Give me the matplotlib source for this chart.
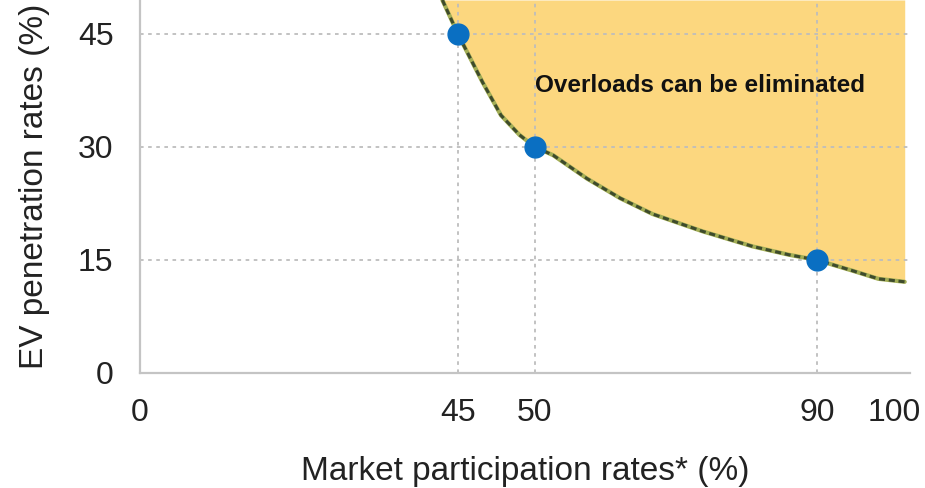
import numpy as np
import matplotlib
matplotlib.use('Agg')
import matplotlib.pyplot as plt
from matplotlib.transforms import ScaledTranslation

### DATA
x_ticks = [0, 45, 50, 90, 100]
y_ticks = [0, 15, 30, 45]
point_x = [45, 50, 90]
point_y = [45, 30, 15]
curve_x = [42.8, 45, 46.6, 47.8, 49.0, 50, 52.6, 57.4, 62.1, 66.7, 73.8, 80.9, 86.0, 90, 94.0, 97.0, 100]
curve_y = [49.5, 45, 38.6, 34.2, 31.6, 30, 28.9, 25.8, 23.2, 21.1, 18.8, 16.8, 15.7, 15, 13.6, 12.5, 12.1]
region_label = 'Overloads can be eliminated'
x_label = 'Market participation rates* (%)'
y_label = 'EV penetration rates (%)'

### STYLE
plt.rcParams['font.family'] = ['Liberation Sans', 'DejaVu Sans']
fill_col = '#FCD77F'
dot_col = '#0A6FC2'
grid_col = '#BDBDBD'
spine_col = '#C4C4C4'

# the x axis of the original is not linear: piecewise mapping of value -> pixel offset
xp = [-10, 0, 45, 50, 90, 100, 110]
fp = [-70.7, 0, 318, 395, 677, 765, 853]
def fwd(v):
	return np.interp(v, xp, fp)
def inv(p):
	return np.interp(p, fp, xp)

fig = plt.figure(figsize=(9.25, 4.88), dpi=100)
ax = fig.add_axes([140 / 925, 1 - 373 / 488, 770 / 925, 373 / 488])
ax.set_xscale('function', functions=(fwd, inv))
ax.set_xlim(0, 100.6)
ax.set_ylim(0, 49.5)

### GRID
for yv in y_ticks[1:]:
	ax.axhline(yv, color=grid_col, lw=1.3, ls=(0, (2, 2.5)), zorder=1)
for xv in point_x:
	ax.axvline(xv, color=grid_col, lw=1.3, ls=(0, (2, 2.5)), zorder=1)

### REGION + CURVE
ax.fill_between(curve_x, curve_y, 49.5, color=fill_col, lw=0, zorder=0)
ax.plot(curve_x, curve_y, color='#A3AE55', lw=3, zorder=2, solid_capstyle='round')
ax.plot(curve_x, curve_y, color='#3E4B2C', lw=2.2, ls=(0, (2, 1.2)), zorder=3)
ax.plot(point_x, point_y, 'o', color=dot_col, ms=15, mec=dot_col, zorder=4)
ax.text(73.5, 38.2, region_label, ha='center', va='center', fontsize=17.5, fontweight='bold', color='#111111', zorder=5)

### AXES
for s in ['top', 'right']:
	ax.spines[s].set_visible(False)
for s in ['left', 'bottom']:
	ax.spines[s].set_color(spine_col)
	ax.spines[s].set_linewidth(1.6)
ax.set_xticks(x_ticks)
ax.set_xticklabels([str(v) for v in x_ticks])
ax.set_yticks(y_ticks)
ax.set_yticklabels([str(v) for v in y_ticks])
ax.tick_params(axis='both', length=0, labelsize=23, colors='#222222')
ax.tick_params(axis='x', pad=18)
ax.tick_params(axis='y', pad=19)
# pull the last x label in so it stays inside the figure
last = ax.get_xticklabels()[-1]
last.set_transform(last.get_transform() + ScaledTranslation(-10 / 100, 0, fig.dpi_scale_trans))
ax.set_xlabel(x_label, fontsize=24, color='#222222', labelpad=20)
ax.set_ylabel(y_label, fontsize=24, color='#222222', labelpad=20)

fig.savefig('out.png', dpi=100)
